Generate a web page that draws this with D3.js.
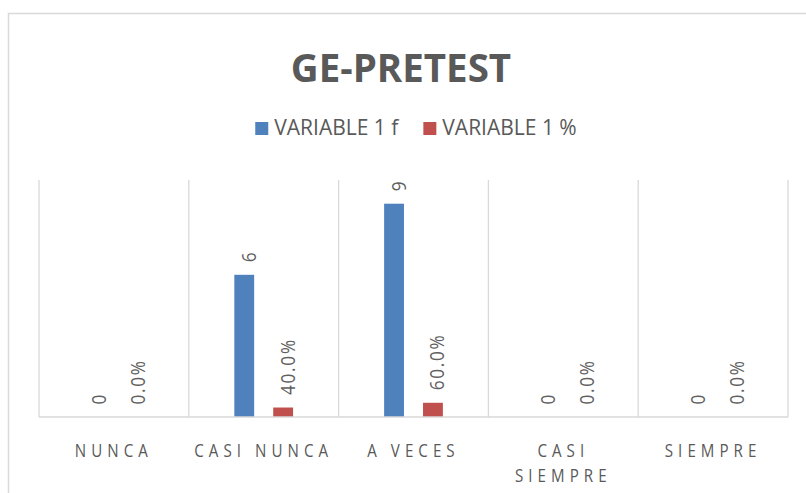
<!DOCTYPE html>
<html>
<head>
<meta charset="utf-8">
<script src="https://cdn.jsdelivr.net/npm/d3@7"></script>
<style>
  html, body { margin: 0; padding: 0; background: #fff; }
  text { font-family: "Open Sans", sans-serif; }
</style>
</head>
<body>
<div id="chart"></div>
<script>
// data
var categories = ["NUNCA", "CASI NUNCA", "A VECES", "CASI SIEMPRE", "SIEMPRE"]
var seriesNames = ["VARIABLE 1 f", "VARIABLE 1 %"]
var freqValues = [0, 6, 9, 0, 0]
var pctValues = [0, 0.4, 0.6, 0, 0]
var yDomain = [0, 10]

var width = 806, height = 493
var colors = ["#4f81bd", "#c0504d"]
var gray = "#595959"

var margin = { top: 180, right: 18, bottom: 76, left: 39 }

var svg = d3.select("#chart").append("svg")
  .attr("width", width)
  .attr("height", height)

// chart frame (runs off the right and bottom edge)
svg.append("rect")
  .attr("x", 8.5).attr("y", 13.5)
  .attr("width", width + 10).attr("height", height + 10)
  .attr("fill", "none")
  .attr("stroke", "#d9d9d9")
  .attr("stroke-width", 1.5)

// squeeze text along its own direction, like the narrow original font
var condense = function (selection, factor) {
  selection.each(function () {
    var len = this.getComputedTextLength()
    d3.select(this)
      .attr("textLength", len * factor)
      .attr("lengthAdjust", "spacingAndGlyphs")
  })
}

svg.append("text")
  .attr("x", 401)
  .attr("y", 82)
  .attr("text-anchor", "middle")
  .attr("font-size", 38.5)
  .attr("font-weight", "bold")
  .attr("fill", gray)
  .text("GE-PRETEST")

// legend
var legend = svg.append("g")
var lx = 0
seriesNames.forEach(function (name, i) {
  var item = legend.append("g").attr("transform", "translate(" + lx + ",0)")
  item.append("rect")
    .attr("x", 0).attr("y", 122)
    .attr("width", 13).attr("height", 13)
    .attr("fill", colors[i])
  var t = item.append("text")
    .attr("x", 19).attr("y", 135)
    .attr("font-size", 21)
    .attr("fill", gray)
    .text(name)
  lx += 19 + t.node().getComputedTextLength() + 25
})
var legendW = lx - 25
legend.attr("transform", "translate(" + (416 - legendW / 2) + ",0)")

// scales
var x0 = d3.scaleBand()
  .domain(categories)
  .range([margin.left, width - margin.right])
  .padding(0)

var x1 = d3.scaleBand()
  .domain(seriesNames)
  .range([0, x0.bandwidth()])
  .paddingInner(0.49)
  .paddingOuter(1.17)

var y = d3.scaleLinear()
  .domain(yDomain)
  .range([height - margin.bottom, margin.top])

// vertical gridlines at category boundaries
var bounds = categories.map(function (c) { return x0(c) })
bounds.push(x0.range()[1])
svg.append("g")
  .selectAll("line")
  .data(bounds)
  .join("line")
  .attr("x1", function (d) { return d }).attr("x2", function (d) { return d })
  .attr("y1", y(yDomain[1])).attr("y2", y(0))
  .attr("stroke", "#d9d9d9")
  .attr("stroke-width", 1.3)

var rows = categories.map(function (c, i) {
  return [
    { cat: c, series: seriesNames[0], value: freqValues[i], label: d3.format("d")(freqValues[i]) },
    { cat: c, series: seriesNames[1], value: pctValues[i], label: d3.format(".1%")(pctValues[i]) }
  ]
})
var flat = [].concat.apply([], rows)

svg.append("g")
  .selectAll("rect")
  .data(flat)
  .join("rect")
  .attr("x", function (d) { return x0(d.cat) + x1(d.series) })
  .attr("y", function (d) { return y(d.value) })
  .attr("width", x1.bandwidth())
  .attr("height", function (d) { return y(0) - y(d.value) })
  .attr("fill", function (d) { return colors[seriesNames.indexOf(d.series)] })

// baseline
svg.append("line")
  .attr("x1", x0.range()[0]).attr("x2", x0.range()[1])
  .attr("y1", y(0)).attr("y2", y(0))
  .attr("stroke", "#d9d9d9")
  .attr("stroke-width", 1.5)

// rotated data labels
var labels = svg.append("g")
  .selectAll("text")
  .data(flat)
  .join("text")
  .attr("transform", function (d) {
    var cx = x0(d.cat) + x1(d.series) + x1.bandwidth() / 2 + 11.5
    return "translate(" + cx + "," + (y(d.value) - 12.5) + ") rotate(-90)"
  })
  .attr("font-size", 20)
  .attr("letter-spacing", "2px")
  .attr("fill", "#606060")
  .text(function (d) { return d.label })
labels.call(condense, 0.86)

// category labels, wrapped when wider than the band
var catSize = 18, catSqueeze = 0.84
var catG = svg.append("g")
categories.forEach(function (c) {
  var cx = x0(c) + x0.bandwidth() / 2
  var t = catG.append("text")
    .attr("x", cx).attr("y", 457)
    .attr("text-anchor", "middle")
    .attr("font-size", catSize)
    .attr("letter-spacing", "6px")
    .attr("fill", gray)
  var ts = t.append("tspan").attr("x", cx).text(c)
  var w = ts.node().getComputedTextLength() * catSqueeze
  if (w > x0.bandwidth() - 4 && c.indexOf(" ") > 0) {
    ts.remove()
    c.split(" ").forEach(function (word, k) {
      t.append("tspan")
        .attr("x", cx)
        .attr("dy", k === 0 ? 0 : 24.5)
        .text(word)
        .call(condense, catSqueeze)
    })
  } else {
    ts.call(condense, catSqueeze)
  }
})
</script>
</body>
</html>
